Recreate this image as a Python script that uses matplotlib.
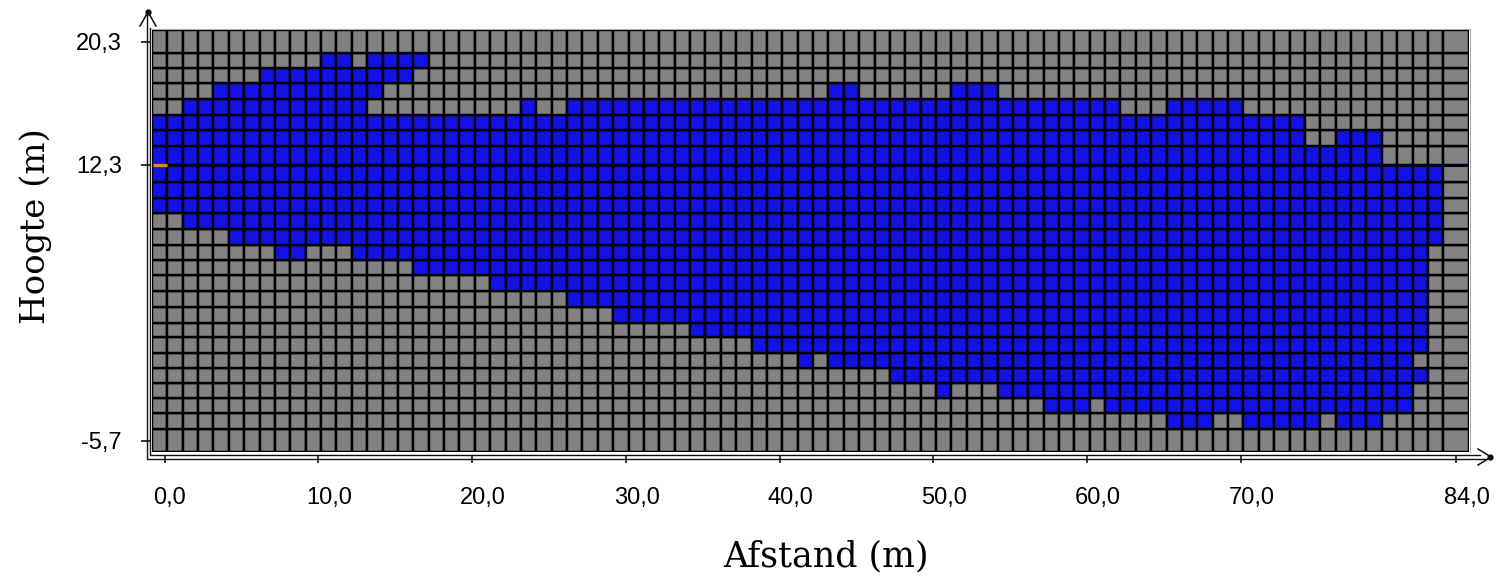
import numpy as np
import matplotlib
matplotlib.use("Agg")
import matplotlib.pyplot as plt
from matplotlib.colors import ListedColormap
from matplotlib.transforms import ScaledTranslation, IdentityTransform
from matplotlib.lines import Line2D

# ---------------- data ----------------
# blue cells per grid row (top row first), as inclusive column ranges
blue_runs = [
    [],
    [(11, 12), (14, 17)],
    [(7, 16)],
    [(4, 14), (44, 45), (52, 54)],
    [(2, 13), (24, 24), (27, 62), (66, 70)],
    [(0, 74)],
    [(0, 74), (77, 79)],
    [(0, 79)],
    [(0, 83)],
    [(0, 83)],
    [(0, 83)],
    [(2, 83)],
    [(5, 83)],
    [(8, 9), (13, 82)],
    [(17, 82)],
    [(22, 82)],
    [(27, 82)],
    [(30, 82)],
    [(35, 82)],
    [(39, 82)],
    [(42, 42), (44, 81)],
    [(48, 82)],
    [(51, 51), (55, 81)],
    [(58, 60), (62, 81)],
    [(66, 68), (71, 75), (77, 79)],
    [],
]
# cell boundaries (m)
col_edges = [-0.83] + [k + 0.17 for k in range(84)] + [84.84]
row_edges = [21.08, 19.56, 18.58, 17.61, 16.56, 15.54, 14.56, 13.52, 12.3,
             11.19, 10.11, 9.13, 8.09, 7.07, 6.09, 5.11, 4.07, 3.05, 2.01,
             1.05, 0.01, -0.97, -1.94, -2.92, -3.90, -4.94, -6.42]
water_level = 12.3
x_ticks = [0, 10, 20, 30, 40, 50, 60, 70, 84]
x_labels = ["0,0", "10,0", "20,0", "30,0", "40,0", "50,0", "60,0", "70,0", "84,0"]
y_ticks = [-5.7, 12.3, 20.3]
y_labels = ["-5,7", "12,3", "20,3"]
x_title = "Afstand (m)"
y_title = "Hoogte (m)"

# ---------------- figure ----------------
W, H = 1499, 579
fig = plt.figure(figsize=(W / 100, H / 100), dpi=100)
fig.patch.set_facecolor("white")

L, R, T, B = 152, 1469, 30, 452
ax = fig.add_axes([L / W, (H - B) / H, (R - L) / W, (B - T) / H])

n_rows = len(blue_runs)
n_cols = len(col_edges) - 1
C = np.zeros((n_rows, n_cols))
for r, runs in enumerate(blue_runs):
    for a, b in runs:
        C[r, a:b + 1] = 1

cmap = ListedColormap(["#828282", "#1212E2"])
ax.pcolormesh(np.array(col_edges), np.array(row_edges)[::-1], C[::-1],
              cmap=cmap, vmin=0, vmax=1, edgecolors="#000000",
              linewidth=1.75, antialiased=True, shading="flat")

ax.axhline(water_level, color="#000018", lw=2.2, zorder=3)
ax.plot([col_edges[0] + 0.05, col_edges[1] - 0.05], [water_level, water_level],
        color="#D88A1E", lw=2.4, solid_capstyle="butt", zorder=4)

ax.set_xlim(col_edges[0], col_edges[-1])
ax.set_ylim(row_edges[-1], row_edges[0])

for s in ax.spines.values():
    s.set_visible(False)
ax.spines["left"].set_position(("outward", 4))
ax.spines["bottom"].set_position(("outward", 3))

tick_font = dict(family="Liberation Sans", size=17)
ax.set_xticks(x_ticks)
ax.set_xticklabels(x_labels, fontdict=tick_font)
ax.set_yticks(y_ticks)
ax.set_yticklabels(y_labels, fontdict=tick_font)
ax.tick_params(axis="x", direction="out", length=5, width=1.1, pad=17,
               color="black")
ax.tick_params(axis="y", direction="inout", length=6.5, width=1.1, pad=14.5,
               color="black")
shift = ScaledTranslation(-12 / 100, 0, fig.dpi_scale_trans)
for lbl in ax.get_xticklabels():
    lbl.set_horizontalalignment("left")
    lbl.set_transform(lbl.get_transform() + shift)

ax.set_xlabel(x_title, fontfamily="DejaVu Serif", fontsize=25)
ax.xaxis.set_label_coords((826 - L) / (R - L), (B - 556) / (B - T))
ax.xaxis.label.set_va("center")
ax.set_ylabel(y_title, fontfamily="DejaVu Serif", fontsize=24.5)
ax.yaxis.set_label_coords((36 - L) / (R - L), (B - 226) / (B - T))
ax.yaxis.label.set_va("center")


# ---------------- axis decorations (pixel coordinates) ----------------
def px_line(xs, ys, **kw):
    ln = Line2D(list(xs), [H - y for y in ys], transform=IdentityTransform(),
                **kw)
    fig.add_artist(ln)


# light frame on top / right of the grid
px_line([L, R + 1, R + 1], [T - 1, T - 1, B], color="#A8A8A8", lw=0.8)
# double axis lines
px_line([146.5, 146.5, 1486], [14, 458.5, 458.5], color="#101010", lw=1.0)
px_line([150, 150, 1480], [28, 455, 455], color="#101010", lw=1.0)
# arrow heads
px_line([140, 148, 156], [26, 12, 26], color="#101010", lw=1.1)
px_line([1478, 1491, 1478], [449, 457, 465], color="#101010", lw=1.1)
fig.add_artist(Line2D([148], [H - 12], transform=IdentityTransform(),
                      marker="o", ms=3.5, color="#101010"))
fig.add_artist(Line2D([1490], [H - 457], transform=IdentityTransform(),
                      marker="o", ms=3.5, color="#101010"))

fig.savefig("out.png", dpi=100)
